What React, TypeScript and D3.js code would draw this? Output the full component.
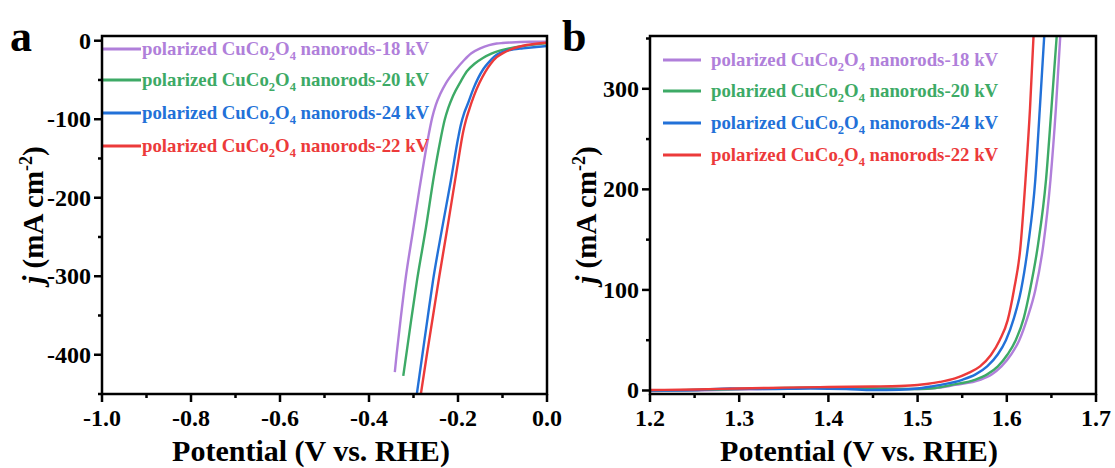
import React from "react";
import * as d3 from "d3";

// ---------- data ----------
const seriesNames = ["18 kV", "20 kV", "24 kV", "22 kV"];
const seriesColors = ["#B07FDA", "#3DAA66", "#2271D8", "#EC3A3A"];

// Panel a (HER): potential (V vs RHE), current density (mA cm-2)
const herX18 = [0, -0.04, -0.08, -0.1, -0.113, -0.13, -0.15, -0.17, -0.186, -0.205, -0.227, -0.24, -0.25, -0.258, -0.266, -0.276, -0.287, -0.302, -0.317, -0.329, -0.338, -0.342];
const herJ18 = [-1.2, -1.4, -2.2, -2.9, -3.6, -5.6, -9.7, -16, -24.6, -37, -54, -68, -82, -98, -120, -152, -190, -245, -300, -355, -400, -422];
const herX20 = [0, -0.03, -0.061, -0.085, -0.106, -0.125, -0.144, -0.162, -0.18, -0.194, -0.211, -0.222, -0.23, -0.24, -0.254, -0.272, -0.292, -0.305, -0.315, -0.323];
const herJ20 = [-3.4, -5, -7.3, -9.8, -12.7, -16.5, -22, -29, -39, -52, -70, -86, -101, -128, -172, -238, -305, -355, -395, -427];
const herX24 = [0, -0.03, -0.054, -0.075, -0.091, -0.105, -0.118, -0.13, -0.143, -0.155, -0.166, -0.177, -0.186, -0.194, -0.2, -0.216, -0.236, -0.256, -0.268, -0.28, -0.293];
const herJ24 = [-6.8, -8.3, -9.7, -11, -12.7, -15.5, -20, -27, -36, -48, -62, -79, -92, -108, -125, -178, -240, -305, -352, -400, -452];
const herX22 = [0, -0.025, -0.046, -0.065, -0.083, -0.098, -0.113, -0.126, -0.139, -0.152, -0.164, -0.175, -0.182, -0.188, -0.202, -0.222, -0.242, -0.256, -0.27, -0.284];
const herJ22 = [-2.5, -3.8, -5.5, -8, -11.5, -15.5, -21, -29, -40, -54, -70, -88, -101, -115, -162, -232, -300, -350, -400, -452];

// Panel b (OER)
const oerX18 = [1.2, 1.25, 1.3, 1.35, 1.4, 1.45, 1.5, 1.525, 1.542, 1.57, 1.583, 1.594, 1.605, 1.614, 1.623, 1.632, 1.641, 1.649, 1.655, 1.66];
const oerJ18 = [-0.5, 0, 1, 2, 3, 2.5, 1.5, 3, 5.6, 10.6, 16, 24, 36, 50, 72, 100, 145, 210, 280, 353];
const oerX20 = [1.2, 1.25, 1.3, 1.35, 1.4, 1.45, 1.5, 1.52, 1.538, 1.564, 1.578, 1.59, 1.601, 1.61, 1.619, 1.626, 1.635, 1.644, 1.65, 1.656];
const oerJ20 = [0, 0.5, 1.5, 2.5, 3, 2, 1.5, 2.5, 5.6, 10.6, 16, 24, 36, 50, 72, 100, 145, 210, 280, 353];
const oerX24 = [1.2, 1.25, 1.29, 1.33, 1.38, 1.42, 1.45, 1.48, 1.5, 1.515, 1.526, 1.55, 1.565, 1.578, 1.59, 1.599, 1.608, 1.616, 1.624, 1.632, 1.637, 1.642];
const oerJ24 = [0, 0.5, 2, 1.5, 2, 1.5, 0.5, 0.8, 2, 4, 5.6, 10.6, 16, 24, 36, 50, 72, 100, 145, 210, 280, 353];
const oerX22 = [1.2, 1.25, 1.3, 1.35, 1.4, 1.45, 1.48, 1.5, 1.51, 1.525, 1.542, 1.556, 1.57, 1.582, 1.592, 1.601, 1.608, 1.615, 1.621, 1.626, 1.63];
const oerJ22 = [0.5, 1, 2, 2.8, 3.5, 4, 4.5, 5.5, 6.5, 8.5, 12, 17, 24, 35, 50, 70, 100, 140, 210, 280, 353];

const herXTicks = [-1.0, -0.8, -0.6, -0.4, -0.2, 0.0];
const herYTicks = [0, -100, -200, -300, -400];
const oerXTicks = [1.2, 1.3, 1.4, 1.5, 1.6, 1.7];
const oerYTicks = [0, 100, 200, 300];

const FONT = '"Liberation Serif", "Times New Roman", serif';

type Pt = [number, number];
const zip = (xs: number[], ys: number[]): Pt[] => xs.map((x, i) => [x, ys[i]] as Pt);

const herSeries = [zip(herX18, herJ18), zip(herX20, herJ20), zip(herX24, herJ24), zip(herX22, herJ22)];
const oerSeries = [zip(oerX18, oerJ18), zip(oerX20, oerJ20), zip(oerX24, oerJ24), zip(oerX22, oerJ22)];

interface PanelProps {
  id: string;
  letter: string;
  left: number;
  right: number;
  top: number;
  bottom: number;
  xDomain: [number, number];
  yDomain: [number, number];
  xTicks: number[];
  yTicks: number[];
  xMinorStep: number;
  yMinorStep: number;
  xFmt: (v: number) => string;
  series: Pt[][];
  legendLineX: [number, number];
  legendTextX: number;
  legendRows: number[];
  letterPos: [number, number];
  yTitleX: number;
  xTitleCx: number;
}

function LegendLabel({ x, y, name, color }: { x: number; y: number; name: string; color: string }) {
  return (
    <text x={x} y={y} fill={color} fontFamily={FONT} fontWeight="bold" fontSize={18.8}>
      <tspan>polarized CuCo</tspan>
      <tspan fontSize={12.5} dy={5}>2</tspan>
      <tspan dy={-5}>O</tspan>
      <tspan fontSize={12.5} dy={5}>4</tspan>
      <tspan dy={-5}>{` nanorods-${name}`}</tspan>
    </text>
  );
}

function Panel(p: PanelProps) {
  const x = d3.scaleLinear().domain(p.xDomain).range([p.left, p.right]);
  const y = d3.scaleLinear().domain(p.yDomain).range([p.bottom, p.top]);
  const line = d3
    .line<Pt>()
    .x((d) => x(d[0]))
    .y((d) => y(d[1]))
    .curve(d3.curveMonotoneX);

  const xMinor = d3.range(p.xDomain[0], p.xDomain[1] + 1e-9, p.xMinorStep).filter(
    (v) => !p.xTicks.some((t) => Math.abs(t - v) < 1e-6)
  );
  const yLo = Math.ceil(p.yDomain[0] / p.yMinorStep) * p.yMinorStep;
  const yMinor = d3.range(yLo, p.yDomain[1] + 1e-9, p.yMinorStep).filter(
    (v) => !p.yTicks.some((t) => Math.abs(t - v) < 1e-6)
  );
  const cy = (p.top + p.bottom) / 2;

  return (
    <g>
      <defs>
        <clipPath id={`clip-${p.id}`}>
          <rect x={p.left} y={p.top} width={p.right - p.left} height={p.bottom - p.top} />
        </clipPath>
      </defs>
      <g clipPath={`url(#clip-${p.id})`}>
        {p.series.map((s, i) => {
          const sorted = [...s].sort((a, b) => a[0] - b[0]);
          return <path key={i} d={line(sorted) || ""} fill="none" stroke={seriesColors[i]} strokeWidth={2.4} />;
        })}
      </g>
      {/* legend */}
      {seriesNames.map((n, i) => (
        <g key={n}>
          <line
            x1={p.legendLineX[0]}
            x2={p.legendLineX[1]}
            y1={p.legendRows[i]}
            y2={p.legendRows[i]}
            stroke={seriesColors[i]}
            strokeWidth={3}
          />
          <LegendLabel x={p.legendTextX} y={p.legendRows[i] + 6} name={n} color={seriesColors[i]} />
        </g>
      ))}
      {/* frame */}
      <rect
        x={p.left}
        y={p.top}
        width={p.right - p.left}
        height={p.bottom - p.top}
        fill="none"
        stroke="#000"
        strokeWidth={2.5}
      />
      {/* x ticks */}
      {p.xTicks.map((t) => (
        <g key={`xt${t}`}>
          <line x1={x(t)} x2={x(t)} y1={p.bottom} y2={p.bottom + 8} stroke="#000" strokeWidth={2.5} />
          <text
            x={x(t)}
            y={p.bottom + 32}
            textAnchor="middle"
            fontFamily={FONT}
            fontWeight="bold"
            fontSize={24}
            fill="#000"
          >
            {p.xFmt(t)}
          </text>
        </g>
      ))}
      {xMinor.map((t) => (
        <line key={`xm${t}`} x1={x(t)} x2={x(t)} y1={p.bottom} y2={p.bottom + 4} stroke="#000" strokeWidth={2.5} />
      ))}
      {/* y ticks */}
      {p.yTicks.map((t) => (
        <g key={`yt${t}`}>
          <line x1={p.left - 8} x2={p.left} y1={y(t)} y2={y(t)} stroke="#000" strokeWidth={2.5} />
          <text
            x={p.left - 11}
            y={y(t) + 8}
            textAnchor="end"
            fontFamily={FONT}
            fontWeight="bold"
            fontSize={24}
            fill="#000"
          >
            {t}
          </text>
        </g>
      ))}
      {yMinor.map((t) => (
        <line key={`ym${t}`} x1={p.left - 4} x2={p.left} y1={y(t)} y2={y(t)} stroke="#000" strokeWidth={2.5} />
      ))}
      {/* axis titles */}
      <text x={p.xTitleCx} y={p.bottom + 67} textAnchor="middle" fontFamily={FONT} fontWeight="bold" fontSize={30} fill="#000">
        Potential (V vs. RHE)
      </text>
      <text
        transform={`translate(${p.yTitleX},${cy}) rotate(-90)`}
        textAnchor="middle"
        fontFamily={FONT}
        fontWeight="bold"
        fontSize={29}
        fill="#000"
      >
        <tspan fontStyle="italic">j</tspan>
        <tspan> (mA cm</tspan>
        <tspan fontSize={18} dy={-11}>-2</tspan>
        <tspan dy={11}>)</tspan>
      </text>
      <text x={p.letterPos[0]} y={p.letterPos[1]} fontFamily={FONT} fontWeight="bold" fontSize={44} fill="#000">
        {p.letter}
      </text>
    </g>
  );
}

export default function App() {
  return (
    <svg
      width={1115}
      height={468}
      viewBox="0 0 1115 468"
      style={{ position: "absolute", left: 0, top: 0, background: "#fff" }}
    >
      <rect x={0} y={0} width={1115} height={468} fill="#fff" />
      <Panel
        id="a"
        letter="a"
        left={102}
        right={547}
        top={36}
        bottom={394}
        xDomain={[-1, 0]}
        yDomain={[-450, 6]}
        xTicks={herXTicks}
        yTicks={herYTicks}
        xMinorStep={0.1}
        yMinorStep={50}
        xFmt={(v) => d3.format(".1f")(v).replace("−", "-")}
        series={herSeries}
        legendLineX={[102, 141]}
        legendTextX={142}
        legendRows={[49, 80, 113, 146]}
        letterPos={[10, 51]}
        yTitleX={43}
        xTitleCx={311}
      />
      <Panel
        id="b"
        letter="b"
        left={650}
        right={1096}
        top={36}
        bottom={394}
        xDomain={[1.2, 1.7]}
        yDomain={[-3.5, 352.5]}
        xTicks={oerXTicks}
        yTicks={oerYTicks}
        xMinorStep={0.05}
        yMinorStep={50}
        xFmt={(v) => d3.format(".1f")(v)}
        series={oerSeries}
        legendLineX={[663, 701]}
        legendTextX={711}
        legendRows={[60, 91, 123, 155]}
        letterPos={[562, 51]}
        yTitleX={596}
        xTitleCx={859}
      />
    </svg>
  );
}
